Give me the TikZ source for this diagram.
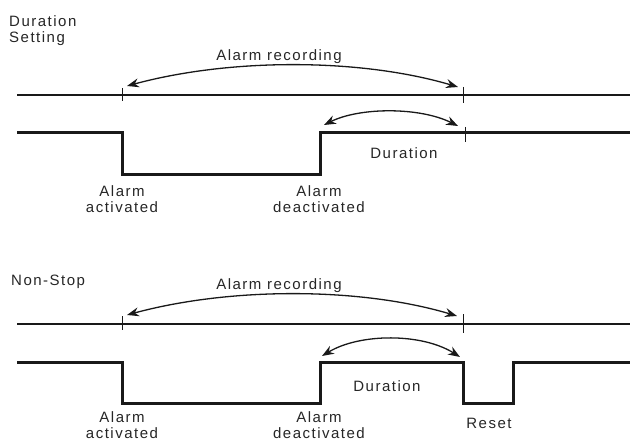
\documentclass[tikz,border=0pt]{standalone}
\usepackage{fontspec}
\setmainfont{Liberation Sans}[LetterSpace=10]
\usetikzlibrary{arrows.meta}
\begin{document}
\begin{tikzpicture}[x=1pt,y=-1pt,
  lbl/.style={inner sep=0pt,font=\fontsize{15}{16.5}\selectfont,text=black!85},
  base/.style={line width=2pt,black!90},
  sig/.style={line width=3pt,black!90,line join=miter},
  tick/.style={line width=1pt,black!90},
  arc/.style={line width=1.3pt,black!90,{Stealth[length=12pt,width=9pt,inset=4pt]}-{Stealth[length=12pt,width=9pt,inset=4pt]}}]
\useasboundingbox (0,0) rectangle (630,441);
% ---------- Top: Duration Setting ----------
\node[lbl,anchor=base west,align=left] (t1) at (9,43) {Duration\\Setting};
\coordinate (l1a) at (17,95); \coordinate (l1b) at (630,95);
\draw[base] (l1a) -- (l1b);
\coordinate (k1a) at (122,88); \coordinate (k1b) at (122,101);
\coordinate (k2a) at (463,87); \coordinate (k2b) at (463,103);
\draw[tick] (k1a) -- (k1b); \draw[tick] (k2a) -- (k2b);
\coordinate (r1a) at (127,86); \coordinate (r1b) at (458,87);
\draw[arc] (r1a) .. controls (230,58) and (360,58) .. (r1b);
\node[lbl,anchor=base] (rec1) at (279,61) {Alarm recording};
% signal
\coordinate (s1) at (17,133); \coordinate (s2) at (122,133);
\coordinate (s3) at (122,175); \coordinate (s4) at (320,175);
\coordinate (s5) at (320,133); \coordinate (s6) at (630,133);
\draw[sig] (s1) -- (s2) -- (s3) -- (s4) -- (s5) -- (s6);
\coordinate (k3a) at (465,127); \coordinate (k3b) at (465,142);
\draw[tick] (k3a) -- (k3b);
\coordinate (d1a) at (324,125); \coordinate (d1b) at (458,126);
\draw[arc] (d1a) .. controls (360,107) and (420,107) .. (d1b);
\node[lbl,anchor=base] (dur1) at (404,159) {Duration};
\node[lbl,anchor=base,align=center] (act1) at (122,213) {Alarm\\activated};
\node[lbl,anchor=base,align=center] (deact1) at (319,213) {Alarm\\deactivated};
% ---------- Bottom: Non-Stop ----------
\node[lbl,anchor=base west] (t2) at (11,285) {Non-Stop};
\coordinate (l2a) at (17,324); \coordinate (l2b) at (630,324);
\draw[base] (l2a) -- (l2b);
\coordinate (k4a) at (122,316); \coordinate (k4b) at (122,330);
\coordinate (k5a) at (463,314); \coordinate (k5b) at (463,333);
\draw[tick] (k4a) -- (k4b); \draw[tick] (k5a) -- (k5b);
\coordinate (r2a) at (127,315); \coordinate (r2b) at (457,316);
\draw[arc] (r2a) .. controls (230,287) and (360,287) .. (r2b);
\node[lbl,anchor=base] (rec2) at (279,290) {Alarm recording};
\coordinate (u1) at (17,362); \coordinate (u2) at (122,362);
\coordinate (u3) at (122,403); \coordinate (u4) at (320,403);
\coordinate (u5) at (320,362); \coordinate (u6) at (463,362);
\coordinate (u7) at (463,403); \coordinate (u8) at (513,403);
\coordinate (u9) at (513,362); \coordinate (u10) at (630,362);
\draw[sig] (u1) -- (u2) -- (u3) -- (u4) -- (u5) -- (u6) -- (u7) -- (u8) -- (u9) -- (u10);
\coordinate (d2a) at (322,356); \coordinate (d2b) at (460,357);
\draw[arc] (d2a) .. controls (360,333) and (422,333) .. (d2b);
\node[lbl,anchor=base] (dur2) at (387,391) {Duration};
\node[lbl,anchor=base] (reset) at (489,428) {Reset};
\node[lbl,anchor=base,align=center] (act2) at (122,438.5) {Alarm\\activated};
\node[lbl,anchor=base,align=center] (deact2) at (319,438.5) {Alarm\\deactivated};
\end{tikzpicture}
\end{document}
